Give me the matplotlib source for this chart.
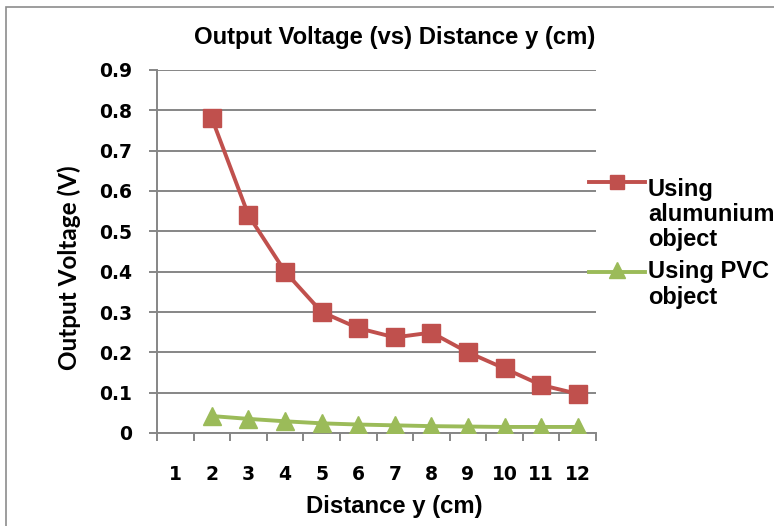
import matplotlib
matplotlib.use("Agg")
import matplotlib.pyplot as plt
from matplotlib.patches import Rectangle
from matplotlib.lines import Line2D
import numpy as np

categories = [1, 2, 3, 4, 5, 6, 7, 8, 9, 10, 11, 12]
x_alu = [2, 3, 4, 5, 6, 7, 8, 9, 10, 11, 12]
alu = [0.78, 0.54, 0.40, 0.30, 0.26, 0.237, 0.249, 0.20, 0.16, 0.119, 0.097]
x_pvc = [2, 3, 4, 5, 6, 7, 8, 9, 10, 11, 12]
pvc = [0.042, 0.035, 0.029, 0.024, 0.021, 0.019, 0.017, 0.016, 0.015, 0.015, 0.015]
yticks = [0, 0.1, 0.2, 0.3, 0.4, 0.5, 0.6, 0.7, 0.8, 0.9]
ytick_labels = ["0", "0.1", "0.2", "0.3", "0.4", "0.5", "0.6", "0.7", "0.8", "0.9"]
legend_alu = ["Using", "alumunium", "object"]
legend_pvc = ["Using PVC", "object"]

RED = "#C0504D"
GREEN = "#9BBB59"
GRID = "#868686"

W, H = 774, 526
fig = plt.figure(figsize=(W / 100, H / 100), dpi=100)
ax = fig.add_axes([157 / W, 1 - 433 / H, (596 - 157) / W, (433 - 70) / H])


def fx(px):
    return px / W


def fy(py):
    return 1 - py / H


# outer chart frame
fig.patches.append(Rectangle((fx(6), -0.05), 1.2, fy(7) + 0.05, transform=fig.transFigure,
                             fill=False, edgecolor="#8c8c8c", linewidth=1.2, zorder=0))

ax.plot(x_alu, alu, color=RED, linewidth=2.8, marker="s", markersize=13,
        markerfacecolor=RED, markeredgecolor=RED, zorder=3)
ax.plot(x_pvc, pvc, color=GREEN, linewidth=2.8, marker="^", markersize=13,
        markerfacecolor=GREEN, markeredgecolor=GREEN, zorder=3)

ax.set_xlim(0.5, 12.5)
ax.set_ylim(0, 0.9)
ax.set_yticks(yticks)
ax.set_yticklabels(ytick_labels)
ax.set_xticks(categories)
ax.set_xticklabels([str(c) for c in categories])
ax.set_xticks(np.arange(0.5, 13, 1), minor=True)

for s in ["top", "right"]:
    ax.spines[s].set_visible(False)
for s in ["left", "bottom"]:
    ax.spines[s].set_color(GRID)
    ax.spines[s].set_linewidth(1.4)

ax.yaxis.grid(True, color=GRID, linewidth=1.4)
ax.set_axisbelow(True)

ax.tick_params(axis="y", length=6, width=1.4, color=GRID, pad=12)
ax.tick_params(axis="x", which="major", length=0, pad=23)
ax.tick_params(axis="x", which="minor", length=6, width=1.4, color=GRID)
for lab in ax.get_yticklabels() + ax.get_xticklabels():
    lab.set_fontfamily("DejaVu Sans")
    lab.set_fontweight("bold")
    lab.set_fontsize(13.5)

arial = dict(family="Liberation Sans", weight="bold", size=17.2)
fig.text(fx(395), fy(44), "Output Voltage (vs) Distance y (cm)", ha="center",
         va="baseline", **arial)
fig.text(fx(394), fy(513), "Distance y (cm)", ha="center", va="baseline", **arial)
fig.text(fx(77), fy(268), "Output Voltage (V)", rotation=90, rotation_mode="anchor",
         ha="center", va="baseline", family="Lato", weight="bold", size=17.5)

# legend (drawn in figure pixel coordinates)
leg_font = dict(family="Liberation Sans", weight="bold", size=17)
fig.add_artist(Line2D([fx(589), fx(645)], [fy(182), fy(182)], color=RED, linewidth=2.8,
                      transform=fig.transFigure))
fig.add_artist(Line2D([fx(617)], [fy(182)], color=RED, marker="s", markersize=10,
                      linestyle="none", transform=fig.transFigure))
for txt, base in zip(legend_alu, [196, 221, 246]):
    fig.text(fx(648), fy(base), txt, ha="left", va="baseline", **leg_font)

fig.add_artist(Line2D([fx(589), fx(645)], [fy(272), fy(272)], color=GREEN, linewidth=2.8,
                      transform=fig.transFigure))
fig.add_artist(Line2D([fx(617)], [fy(270)], color=GREEN, marker="^", markersize=11,
                      linestyle="none", transform=fig.transFigure))
for txt, base in zip(legend_pvc, [278, 304]):
    fig.text(fx(648), fy(base), txt, ha="left", va="baseline", **leg_font)

fig.savefig("out.png", dpi=100)
